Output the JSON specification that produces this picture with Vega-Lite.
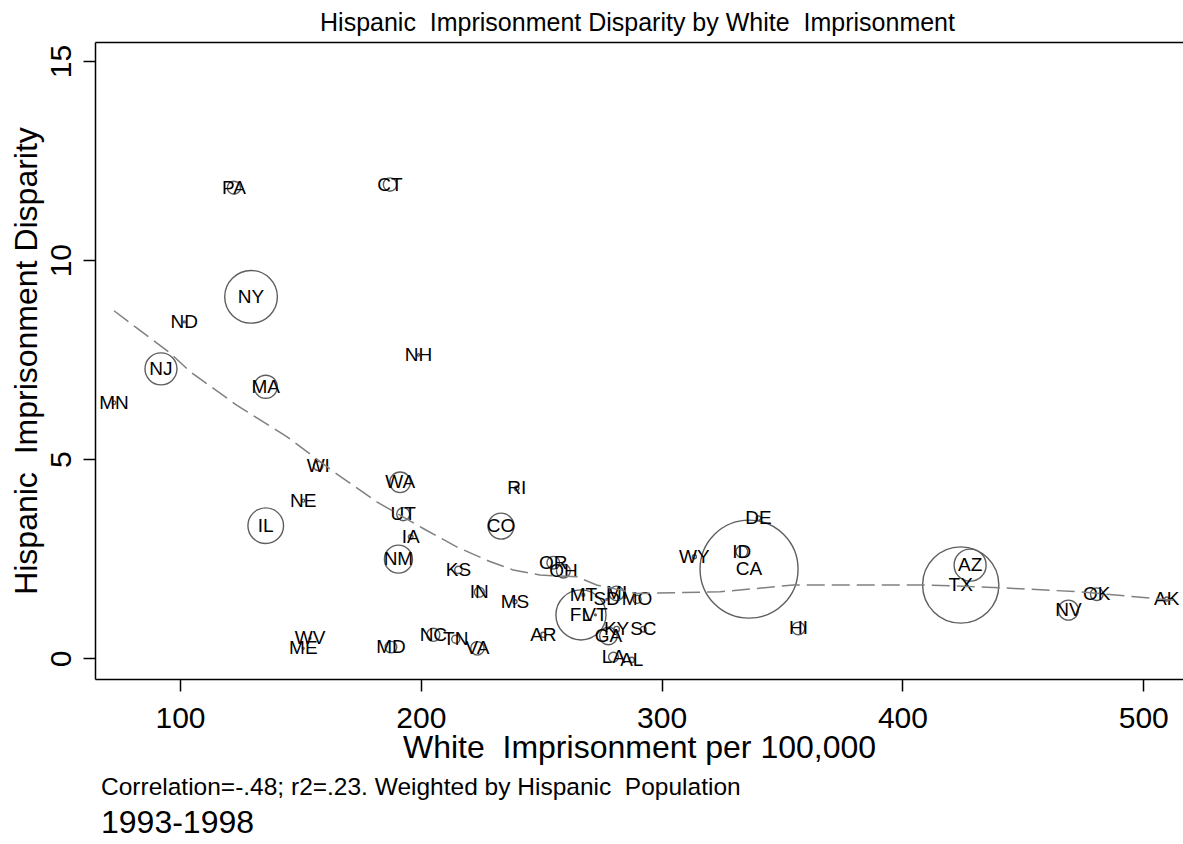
{
  "$schema": "https://vega.github.io/schema/vega-lite/v6.json",
  "width": 1088,
  "height": 637,
  "autosize": {"type": "none"},
  "padding": {"left": 95, "top": 42, "right": 0, "bottom": 165},
  "background": "white",
  "config": {
    "view": {"stroke": null},
    "font": "Liberation Sans",
    "axis": {"grid": false, "domainColor": "black", "domainWidth": 1.5, "tickColor": "black", "tickWidth": 1.5, "labelColor": "black", "titleColor": "black", "labelFont": "Liberation Sans", "titleFont": "Liberation Sans", "titleFontWeight": "normal"}
  },
  "title": {
    "text": "Correlation=-.48; r2=.23. Weighted by Hispanic \u00a0Population",
    "subtitle": "1993-1998",
    "orient": "bottom",
    "anchor": "start",
    "frame": "group",
    "font": "Liberation Sans",
    "subtitleFont": "Liberation Sans",
    "fontSize": 24.5,
    "subtitleFontSize": 32,
    "fontWeight": "normal",
    "color": "black",
    "subtitleColor": "black",
    "dx": 6,
    "offset": 13,
    "subtitlePadding": 7
  },
  "datasets": {
    "states": [
      {"state": "PA", "white_imp": 122.4, "disparity": 11.82, "hisp_pop": 160},
      {"state": "CT", "white_imp": 187.2, "disparity": 11.9, "hisp_pop": 166},
      {"state": "NY", "white_imp": 129.5, "disparity": 9.08, "hisp_pop": 2600},
      {"state": "ND", "white_imp": 101.8, "disparity": 8.45, "hisp_pop": 4},
      {"state": "NJ", "white_imp": 92.1, "disparity": 7.27, "hisp_pop": 960},
      {"state": "MA", "white_imp": 135.6, "disparity": 6.82, "hisp_pop": 500},
      {"state": "MN", "white_imp": 72.6, "disparity": 6.42, "hisp_pop": 12},
      {"state": "NH", "white_imp": 199.0, "disparity": 7.62, "hisp_pop": 5},
      {"state": "WI", "white_imp": 157.4, "disparity": 4.83, "hisp_pop": 80},
      {"state": "WA", "white_imp": 191.4, "disparity": 4.42, "hisp_pop": 400},
      {"state": "NE", "white_imp": 151.2, "disparity": 3.96, "hisp_pop": 8},
      {"state": "IL", "white_imp": 135.6, "disparity": 3.33, "hisp_pop": 1190},
      {"state": "UT", "white_imp": 192.7, "disparity": 3.62, "hisp_pop": 160},
      {"state": "IA", "white_imp": 195.8, "disparity": 3.05, "hisp_pop": 20},
      {"state": "NM", "white_imp": 190.7, "disparity": 2.49, "hisp_pop": 735},
      {"state": "KS", "white_imp": 215.6, "disparity": 2.22, "hisp_pop": 50},
      {"state": "IN", "white_imp": 224.3, "disparity": 1.66, "hisp_pop": 90},
      {"state": "WV", "white_imp": 154.0, "disparity": 0.5, "hisp_pop": 3},
      {"state": "ME", "white_imp": 151.2, "disparity": 0.25, "hisp_pop": 3},
      {"state": "MD", "white_imp": 187.6, "disparity": 0.28, "hisp_pop": 125},
      {"state": "NC", "white_imp": 205.2, "disparity": 0.59, "hisp_pop": 160},
      {"state": "TN", "white_imp": 214.5, "disparity": 0.48, "hisp_pop": 60},
      {"state": "VA", "white_imp": 223.5, "disparity": 0.25, "hisp_pop": 170},
      {"state": "RI", "white_imp": 239.8, "disparity": 4.27, "hisp_pop": 20},
      {"state": "CO", "white_imp": 233.3, "disparity": 3.32, "hisp_pop": 630},
      {"state": "OR", "white_imp": 255.0, "disparity": 2.4, "hisp_pop": 150},
      {"state": "OH", "white_imp": 259.2, "disparity": 2.19, "hisp_pop": 180},
      {"state": "MT", "white_imp": 267.5, "disparity": 1.59, "hisp_pop": 8},
      {"state": "MI", "white_imp": 281.3, "disparity": 1.63, "hisp_pop": 200},
      {"state": "SD", "white_imp": 277.2, "disparity": 1.48, "hisp_pop": 3},
      {"state": "MO", "white_imp": 289.8, "disparity": 1.48, "hisp_pop": 60},
      {"state": "FL", "white_imp": 266.5, "disparity": 1.09, "hisp_pop": 2350},
      {"state": "VT", "white_imp": 272.5, "disparity": 1.09, "hisp_pop": 3},
      {"state": "AR", "white_imp": 250.9, "disparity": 0.59, "hisp_pop": 25},
      {"state": "KY", "white_imp": 281.3, "disparity": 0.73, "hisp_pop": 30},
      {"state": "GA", "white_imp": 277.9, "disparity": 0.56, "hisp_pop": 290},
      {"state": "SC", "white_imp": 292.4, "disparity": 0.73, "hisp_pop": 30},
      {"state": "LA", "white_imp": 280.0, "disparity": 0.03, "hisp_pop": 90},
      {"state": "AL", "white_imp": 287.6, "disparity": -0.04, "hisp_pop": 25},
      {"state": "MS", "white_imp": 239.1, "disparity": 1.42, "hisp_pop": 15},
      {"state": "WY", "white_imp": 313.6, "disparity": 2.55, "hisp_pop": 15},
      {"state": "DE", "white_imp": 340.2, "disparity": 3.52, "hisp_pop": 20},
      {"state": "ID", "white_imp": 333.3, "disparity": 2.68, "hisp_pop": 130},
      {"state": "CA", "white_imp": 336.3, "disparity": 2.24, "hisp_pop": 9000},
      {"state": "HI", "white_imp": 356.8, "disparity": 0.75, "hisp_pop": 150},
      {"state": "AZ", "white_imp": 428.1, "disparity": 2.34, "hisp_pop": 960},
      {"state": "TX", "white_imp": 424.2, "disparity": 1.84, "hisp_pop": 5450},
      {"state": "NV", "white_imp": 468.9, "disparity": 1.21, "hisp_pop": 375},
      {"state": "OK", "white_imp": 480.7, "disparity": 1.61, "hisp_pop": 150},
      {"state": "AK", "white_imp": 509.7, "disparity": 1.49, "hisp_pop": 15}
    ],
    "lowess": [
      {"white_imp": 72.6, "fit": 8.73},
      {"white_imp": 95.8, "fit": 7.67},
      {"white_imp": 104.2, "fit": 7.2},
      {"white_imp": 123.5, "fit": 6.36},
      {"white_imp": 144.3, "fit": 5.57},
      {"white_imp": 163.7, "fit": 4.69},
      {"white_imp": 181.7, "fit": 3.93},
      {"white_imp": 201.0, "fit": 3.26},
      {"white_imp": 214.9, "fit": 2.8},
      {"white_imp": 228.7, "fit": 2.43},
      {"white_imp": 238.4, "fit": 2.22},
      {"white_imp": 249.5, "fit": 2.09},
      {"white_imp": 264.7, "fit": 2.05},
      {"white_imp": 273.0, "fit": 1.84},
      {"white_imp": 289.6, "fit": 1.63},
      {"white_imp": 324.3, "fit": 1.67},
      {"white_imp": 354.7, "fit": 1.84},
      {"white_imp": 410.0, "fit": 1.84},
      {"white_imp": 437.7, "fit": 1.78},
      {"white_imp": 473.8, "fit": 1.67},
      {"white_imp": 512.5, "fit": 1.46}
    ]
  },
  "layer": [
    {
      "data": {"name": "states"},
      "mark": {"type": "point", "shape": "circle", "filled": false, "stroke": "#5e5e5e", "strokeWidth": 1.4, "opacity": 1},
      "encoding": {
        "x": {"field": "white_imp", "type": "quantitative", "scale": {"domain": [64.7, 516.5], "nice": false, "zero": false},
              "axis": {"orient": "bottom", "values": [100, 200, 300, 400, 500], "tickSize": 12, "labelFontSize": 30, "labelBaseline": "alphabetic", "labelPadding": 36, "labelFlush": false, "title": "White \u00a0Imprisonment per 100,000", "titleFontSize": 32, "titleBaseline": "alphabetic", "titleAlign": "center", "titleX": 544, "titleY": 78}},
        "y": {"field": "disparity", "type": "quantitative", "scale": {"domain": [-0.52, 15.48], "nice": false, "zero": false},
              "axis": {"values": [0, 5, 10, 15], "tickSize": 12, "labelFontSize": 30, "labelAngle": -90, "labelAlign": "center", "labelBaseline": "alphabetic", "labelPadding": 13, "labelFlush": false, "title": "Hispanic \u00a0Imprisonment Disparity", "titleFontSize": 32, "titleAngle": -90, "titleBaseline": "alphabetic", "titleAlign": "center", "titleX": -59, "titleY": 318.5}},
        "size": {"field": "hisp_pop", "type": "quantitative", "scale": {"type": "linear", "domain": [0, 9000], "range": [0, 9600], "zero": true}, "legend": null}
      }
    },
    {
      "data": {"name": "states"},
      "mark": {"type": "text", "fontSize": 19, "font": "Liberation Sans", "color": "black", "align": "center", "baseline": "middle"},
      "encoding": {
        "x": {"field": "white_imp", "type": "quantitative", "scale": {"domain": [64.7, 516.5], "nice": false, "zero": false}, "axis": null},
        "y": {"field": "disparity", "type": "quantitative"},
        "text": {"field": "state", "type": "nominal"}
      }
    },
    {
      "data": {"name": "lowess"},
      "mark": {"type": "line", "color": "#808080", "strokeWidth": 1.5, "strokeDash": [18, 7]},
      "encoding": {
        "x": {"field": "white_imp", "type": "quantitative", "scale": {"domain": [64.7, 516.5], "nice": false, "zero": false},
              "axis": {"orient": "top", "labels": false, "ticks": false, "title": "Hispanic \u00a0Imprisonment Disparity by White \u00a0Imprisonment", "titleFontSize": 25, "titleBaseline": "alphabetic", "titleAlign": "center", "titleX": 542, "titleY": -12}},
        "y": {"field": "fit", "type": "quantitative"}
      }
    }
  ],
  "resolve": {"scale": {"x": "independent"}}
}
